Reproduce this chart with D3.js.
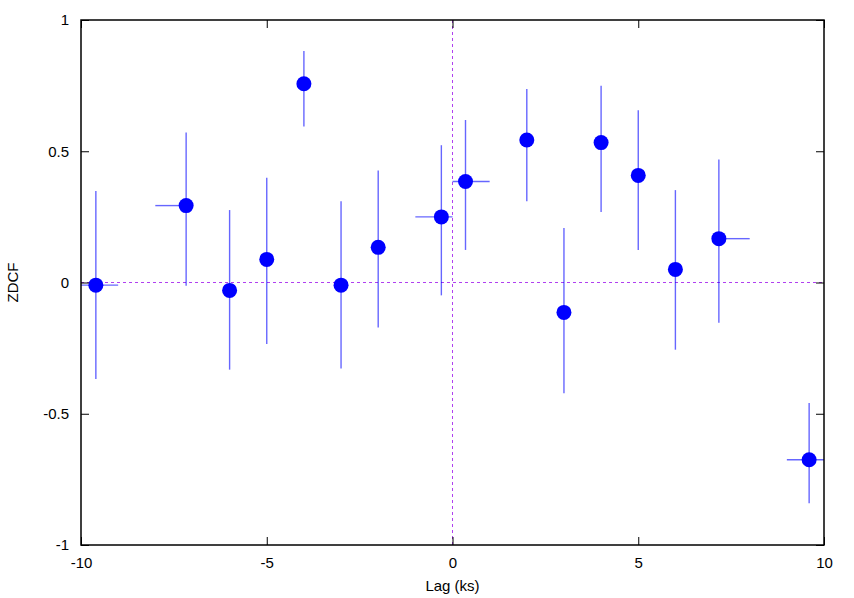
<!DOCTYPE html>
<html>
  <head>
    <meta charset="utf-8">
    <script src="https://d3js.org/d3.v7.min.js"></script>
    <style>
      body { margin: 0; background: #fff; }
      text { font-family: "Liberation Sans", Arial, sans-serif; }
    </style>
  </head>
  <body>
    <script>
    // ZDCF points: lag, lag low/high, zdcf, zdcf low/high
    var lag    = [-9.6, -7.17, -6.0, -5.0, -4.0, -3.0, -2.0, -0.3, 0.35, 2.0, 3.0, 4.0, 5.0, 6.0, 7.17, 9.6];
    var lagLo  = [-10.0, -8.0, -6.0, -5.0, -4.0, -3.0, -2.0, -1.0, 0.0, 2.0, 3.0, 4.0, 5.0, 6.0, 7.17, 9.0];
    var lagHi  = [-9.0, -7.17, -6.0, -5.0, -4.0, -3.0, -2.0, 0.0, 1.0, 2.0, 3.0, 4.0, 5.0, 6.0, 8.0, 10.0];
    var zdcf   = [-0.01, 0.293, -0.03, 0.088, 0.757, -0.01, 0.134, 0.25, 0.385, 0.543, -0.114, 0.533, 0.408, 0.05, 0.167, -0.675];
    var zdcfLo = [-0.368, -0.012, -0.332, -0.234, 0.594, -0.328, -0.171, -0.049, 0.124, 0.31, -0.422, 0.269, 0.124, -0.256, -0.153, -0.841];
    var zdcfHi = [0.349, 0.571, 0.276, 0.399, 0.882, 0.31, 0.427, 0.523, 0.619, 0.737, 0.208, 0.75, 0.656, 0.352, 0.469, -0.459];

    var xTicks = [-10, -5, 0, 5, 10];
    var yTicks = [-1, -0.5, 0, 0.5, 1];

    var width = 854, height = 598;
    var margin = {left: 81, right: 30, top: 20, bottom: 53};

    var svg = d3.select("body").append("svg")
        .attr("width", width)
        .attr("height", height);

    var x = d3.scaleLinear().domain([-10, 10]).range([margin.left, width - margin.right]);
    var y = d3.scaleLinear().domain([-1, 1]).range([height - margin.bottom, margin.top]);

    var data = lag.map(function (d, i) {
      return {x: d, xl: lagLo[i], xh: lagHi[i], y: zdcf[i], yl: zdcfLo[i], yh: zdcfHi[i]};
    });

    // plain hyphen minus, like the original
    var fmt = function (d) { return String(d); };

    // zero lines
    svg.append("line")
      .attr("x1", x(-10)).attr("x2", x(10))
      .attr("y1", y(0)).attr("y2", y(0))
      .attr("stroke", "#b040f0").attr("stroke-width", 1)
      .attr("stroke-dasharray", "3,3");
    svg.append("line")
      .attr("x1", x(0)).attr("x2", x(0))
      .attr("y1", y(-1)).attr("y2", y(1))
      .attr("stroke", "#b040f0").attr("stroke-width", 1)
      .attr("stroke-dasharray", "3,3");

    // axes with inward ticks, mirrored
    var tickLen = 8;
    svg.append("g")
      .attr("transform", "translate(0," + y(-1) + ")")
      .call(d3.axisBottom(x).tickValues(xTicks).tickSizeInner(-tickLen).tickSizeOuter(0).tickPadding(12).tickFormat(fmt))
      .call(function (g) { g.select(".domain").remove(); });
    svg.append("g")
      .attr("transform", "translate(0," + y(1) + ")")
      .call(d3.axisTop(x).tickValues(xTicks).tickSizeInner(-tickLen).tickSizeOuter(0).tickFormat(""))
      .call(function (g) { g.select(".domain").remove(); });
    svg.append("g")
      .attr("transform", "translate(" + x(-10) + ",0)")
      .call(d3.axisLeft(y).tickValues(yTicks).tickSizeInner(-tickLen).tickSizeOuter(0).tickPadding(12).tickFormat(fmt))
      .call(function (g) { g.select(".domain").remove(); });
    svg.append("g")
      .attr("transform", "translate(" + x(10) + ",0)")
      .call(d3.axisRight(y).tickValues(yTicks).tickSizeInner(-tickLen).tickSizeOuter(0).tickFormat(""))
      .call(function (g) { g.select(".domain").remove(); });

    svg.selectAll(".tick text")
      .attr("font-size", 15)
      .attr("fill", "#000")
      .attr("font-family", "Liberation Sans, Arial, sans-serif");
    svg.selectAll(".tick line").attr("stroke", "#000");

    // error bars
    var err = svg.append("g")
      .attr("stroke", "#0000ff")
      .attr("stroke-opacity", 0.6)
      .attr("stroke-width", 1.4);
    err.selectAll(".ev").data(data).enter().append("line")
      .attr("x1", function (d) { return x(d.x); })
      .attr("x2", function (d) { return x(d.x); })
      .attr("y1", function (d) { return y(d.yl); })
      .attr("y2", function (d) { return y(d.yh); });
    err.selectAll(".eh").data(data.filter(function (d) { return d.xh - d.xl > 0; })).enter().append("line")
      .attr("x1", function (d) { return x(d.xl); })
      .attr("x2", function (d) { return x(d.xh); })
      .attr("y1", function (d) { return y(d.y); })
      .attr("y2", function (d) { return y(d.y); });

    // points
    svg.append("g").selectAll("circle").data(data).enter().append("circle")
      .attr("cx", function (d) { return x(d.x); })
      .attr("cy", function (d) { return y(d.y); })
      .attr("r", 7.5)
      .attr("fill", "#0000ff");

    // frame
    svg.append("rect")
      .attr("x", x(-10)).attr("y", y(1))
      .attr("width", x(10) - x(-10)).attr("height", y(-1) - y(1))
      .attr("fill", "none").attr("stroke", "#000").attr("stroke-width", 1.5);

    // axis titles
    svg.append("text")
      .attr("x", (x(-10) + x(10)) / 2).attr("y", 591)
      .attr("text-anchor", "middle").attr("font-size", 15)
      .text("Lag (ks)");
    svg.append("text")
      .attr("transform", "translate(18," + y(0) + ") rotate(-90)")
      .attr("text-anchor", "middle").attr("font-size", 15)
      .text("ZDCF");
    </script>
  </body>
</html>
